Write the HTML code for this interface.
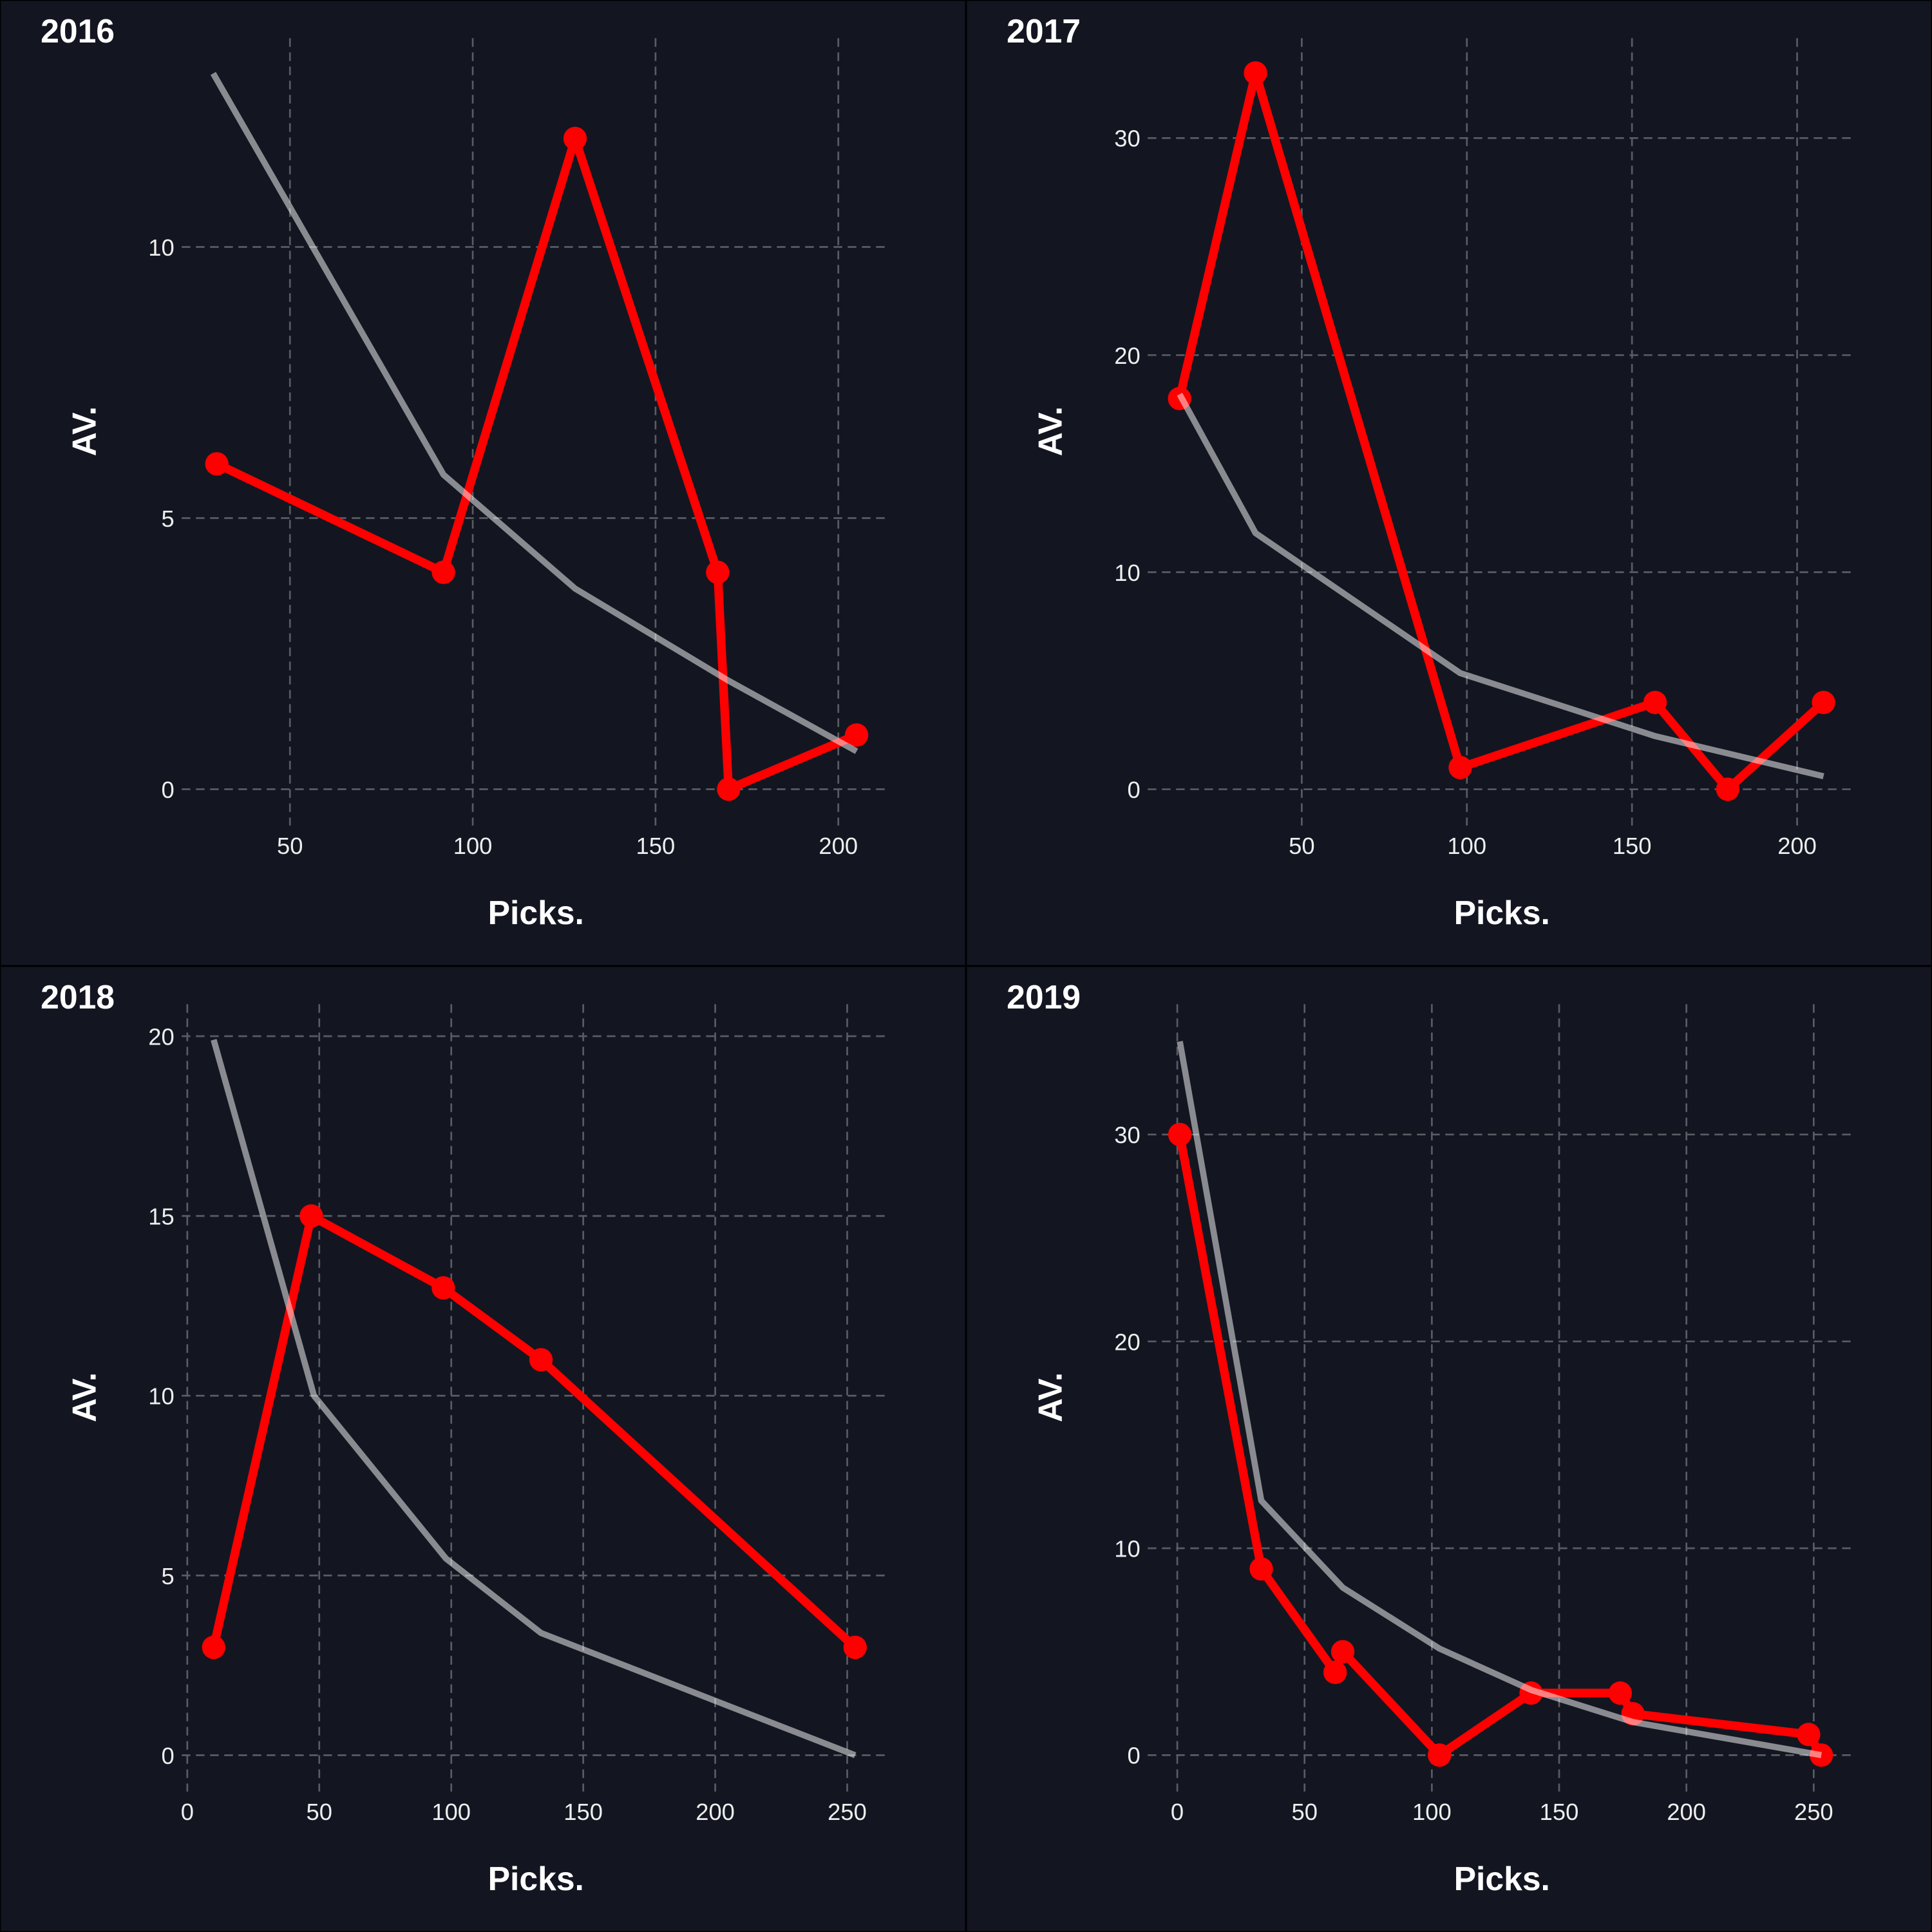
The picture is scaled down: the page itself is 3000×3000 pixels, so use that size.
<!DOCTYPE html>
<html><head><meta charset="utf-8">
<style>
html,body{margin:0;padding:0;background:#000;}
#wrap{position:relative;width:3000px;height:3000px;background:#000;}
.panel{position:absolute;width:1500px;height:1500px;}
svg text{font-family:"Liberation Sans",Arial,sans-serif;}
</style></head>
<body>
<div id="wrap">
<svg class="panel" id="p0" style="left:0;top:0" viewBox="0 0 1568 1568"></svg>
<svg class="panel" id="p1" style="left:1500px;top:0" viewBox="0 0 1568 1568"></svg>
<svg class="panel" id="p2" style="left:0;top:1500px" viewBox="0 0 1568 1568"></svg>
<svg class="panel" id="p3" style="left:1500px;top:1500px" viewBox="0 0 1568 1568"></svg>
</div>
<script>
const years = ["2016","2017","2018","2019"];
const redX2016 = [30,92,128,167,170,205];
const redY2016 = [6,4,12,4,0,1];
const grayX2016 = [29,92,128,170,205];
const grayY2016 = [13.2,5.8,3.7,2.0,0.7];
const redX2017 = [13,36,98,157,179,208];
const redY2017 = [18,33,1,4,0,4];
const grayX2017 = [13,36,98,157,208];
const grayY2017 = [18.2,11.8,5.35,2.45,0.6];
const redX2018 = [10,47,97,134,253];
const redY2018 = [3,15,13,11,3];
const grayX2018 = [10,48,98,134,253];
const grayY2018 = [19.9,10.0,5.47,3.4,0];
const redX2019 = [1,33,62,65,103,139,174,179,248,253];
const redY2019 = [30,9,4,5,0,3,3,2,1,0];
const grayX2019 = [1,33,65,103,139,179,253];
const grayY2019 = [34.5,12.3,8.1,5.15,3.15,1.6,0];
const xTicks2016 = [50,100,150,200], yTicks2016 = [0,5,10];
const xTicks2017 = [50,100,150,200], yTicks2017 = [0,10,20,30];
const xTicks2018 = [0,50,100,150,200,250], yTicks2018 = [0,5,10,15,20];
const xTicks2019 = [0,50,100,150,200,250], yTicks2019 = [0,10,20,30];
const xDomains = [[20.4,214.2],[3.36,217.9],[-2.1,266.3],[-11.6,266.7]];
const yDomains = [[-0.67,13.85],[-1.67,34.6],[-1.01,20.89],[-1.76,36.3]];

const NS="http://www.w3.org/2000/svg";
const L=295,R=1445,T=62,B=1340;
function mk(svg,tag,attrs){const e=document.createElementNS(NS,tag);for(const k in attrs)e.setAttribute(k,attrs[k]);svg.appendChild(e);return e;}

const all=[
 [redX2016,redY2016,grayX2016,grayY2016,xTicks2016,yTicks2016],
 [redX2017,redY2017,grayX2017,grayY2017,xTicks2017,yTicks2017],
 [redX2018,redY2018,grayX2018,grayY2018,xTicks2018,yTicks2018],
 [redX2019,redY2019,grayX2019,grayY2019,xTicks2019,yTicks2019]];

all.forEach((d,i)=>{
 const svg=document.getElementById('p'+i);
 const [rx,ry,gx,gy,xt,yt]=d;
 const xs=v=>L+(v-xDomains[i][0])/(xDomains[i][1]-xDomains[i][0])*(R-L);
 const ys=v=>B-(v-yDomains[i][0])/(yDomains[i][1]-yDomains[i][0])*(B-T);
 const bg=mk(svg,'rect',{x:0,y:0,width:1568,height:1568,fill:'#131621',stroke:'#000',"stroke-width":3});
 
 
 xt.forEach(v=>{
  const g=mk(svg,'line',{x1:xs(v),x2:xs(v),y1:T,y2:B,stroke:'#5a5c63',"stroke-width":2.8,"stroke-dasharray":"14,9"});
  
  
  const t=mk(svg,'text',{x:xs(v),y:1386,"text-anchor":"middle","font-size":38,fill:'#eeeeee'});
  t.textContent=v;
  
  
 });
 yt.forEach(v=>{
  const g=mk(svg,'line',{x1:L,x2:R,y1:ys(v),y2:ys(v),stroke:'#5a5c63',"stroke-width":2.8,"stroke-dasharray":"14,9"});
  
  
  const t=mk(svg,'text',{x:283,y:ys(v)+14,"text-anchor":"end","font-size":38,fill:'#eeeeee'});
  t.textContent=v;
  
  
 });
 const rp=mk(svg,'polyline',{points:rx.map((v,j)=>xs(v)+','+ys(ry[j])).join(' '),fill:'none',stroke:'#ff0000',"stroke-width":14,"stroke-linejoin":"round"});
 
 
 rx.forEach((v,j)=>{
  const c=mk(svg,'circle',{cx:xs(v),cy:ys(ry[j]),r:19,fill:'#ff0000'});
  
  
 });
 const gp=mk(svg,'polyline',{points:gx.map((v,j)=>xs(v)+','+ys(gy[j])).join(' '),fill:'none',stroke:'rgba(255,255,255,0.5)',"stroke-width":10,"stroke-linejoin":"round"});
 
 
 const ti=mk(svg,'text',{x:66,y:69,"font-size":54,"font-weight":"bold",fill:'#ffffff'});
 ti.textContent=years[i];
 
 
 const ya=mk(svg,'text',{x:0,y:0,"font-size":54,"font-weight":"bold",fill:'#ffffff',"text-anchor":"middle",transform:'translate(155,700) rotate(-90)'});
 ya.textContent='AV.';
 
 
 const xa=mk(svg,'text',{x:870,y:1500,"font-size":54,"font-weight":"bold",fill:'#ffffff',"text-anchor":"middle"});
 xa.textContent='Picks.';
 
 
});
</script>
</body></html>
